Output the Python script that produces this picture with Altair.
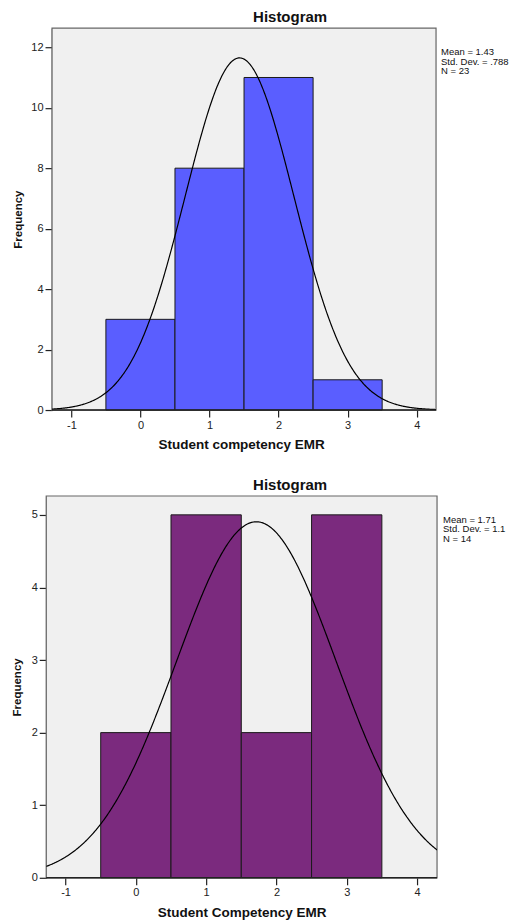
import math
import altair as alt
import pandas as pd

# ---- data ----
values_top = [0, 1, 2, 3]
counts_top = [3, 8, 11, 1]
values_bot = [0, 1, 2, 3]
counts_bot = [2, 5, 2, 5]
x_ticks = [-1, 0, 1, 2, 3, 4]
y_ticks_top = [0, 2, 4, 6, 8, 10, 12]
y_ticks_bot = [0, 1, 2, 3, 4, 5]
x_title_top = "Student competency EMR"
x_title_bot = "Student Competency EMR"
chart_title = "Histogram"

FONT = "Liberation Sans"


def stats(values, counts):
    n = sum(counts)
    mean = sum(v * c for v, c in zip(values, counts)) / n
    var = sum(c * (v - mean) ** 2 for v, c in zip(values, counts)) / (n - 1)
    return n, mean, math.sqrt(var)


def fmt(v, d):
    s = f"{v:.{d}f}"
    if s.startswith("0."):
        s = s[1:]
    return s


def panel(values, counts, color, xtitle, ymax, yticks, width, height,
          xdom, frame_x, yoff, yext, ytpad, title_x, ann_dx, ann_limit):
    n, mean, sd = stats(values, counts)
    df = pd.DataFrame({"value": values, "count": counts})
    xscale = alt.Scale(domain=xdom, nice=False, zero=False)
    yscale = alt.Scale(domain=[0, ymax], nice=False)
    common = dict(grid=False, tickSize=7, labelPadding=2, labelFontSize=11,
                  titleFontWeight="bold", domainColor="#222", tickColor="#222",
                  labelColor="#222", titleColor="#111", labelFlush=False,
                  labelOverlap=False, domainWidth=1.5, tickWidth=1.2,
                  titleFont=FONT, labelFont=FONT,
                  labelExpr="'' + datum.value")
    xaxis = alt.Axis(values=x_ticks, title=xtitle, titlePadding=7.5, domain=False,
                     titleFontSize=13.5, **common)
    yaxis = alt.Axis(values=yticks, title="Frequency", titlePadding=ytpad,
                     titleFontSize=11.5, minExtent=yext, maxExtent=yext,
                     offset=yoff, **common)
    frame = alt.Chart(pd.DataFrame({"k": [0]})).mark_rect(
        fill="#f0f0f0", stroke="#666", strokeWidth=1.2
    ).encode(
        x=alt.X(datum=frame_x[0], scale=xscale, axis=xaxis),
        x2=alt.datum(frame_x[1]),
        y=alt.Y(datum=0, scale=yscale, axis=yaxis),
        y2=alt.datum(ymax),
    )
    bars = alt.Chart(df).transform_calculate(
        lo="datum.value - 0.5", hi="datum.value + 0.5"
    ).mark_bar(color=color, stroke="#1a1a1a", strokeWidth=1).encode(
        x=alt.X("lo:Q", scale=xscale, axis=xaxis),
        x2="hi:Q",
        y=alt.Y("count:Q", scale=yscale, axis=yaxis),
        y2=alt.datum(0),
    )
    curve = alt.Chart(alt.sequence(frame_x[0], frame_x[1] + 0.01, 0.01, as_="x")).transform_filter(
        f"datum.x >= {frame_x[0]} && datum.x <= {frame_x[1]}"
    ).transform_calculate(
        dens=f"{n}*exp(-0.5*pow((datum.x-{mean})/{sd},2))/({sd}*sqrt(2*PI))"
    ).mark_line(color="black", strokeWidth=1.2, clip=True).encode(
        x=alt.X("x:Q", scale=xscale, axis=xaxis),
        y=alt.Y("dens:Q", scale=yscale, axis=yaxis),
    )
    base = alt.Chart(pd.DataFrame({"k": [0]})).mark_rule(
        color="#222", strokeWidth=1.5
    ).encode(
        x=alt.X(datum=frame_x[0], scale=xscale, axis=xaxis),
        x2=alt.datum(frame_x[1]),
        y=alt.Y(datum=0, scale=yscale, axis=yaxis),
    )
    label = f"Mean = {fmt(mean, 2)}\nStd. Dev. = {fmt(sd, 3)}\nN = {n}"
    ann = alt.Chart(pd.DataFrame({"t": [label]})).mark_text(
        align="left", baseline="top", fontSize=9.5, lineHeight=9.5, lineBreak="\n",
        font=FONT, color="#111", limit=ann_limit, ellipsis="\u200b"
    ).encode(x=alt.value(width + ann_dx), y=alt.value(19), text="t:N")
    ttl = alt.Chart(pd.DataFrame({"t": [chart_title]})).mark_text(
        align="center", baseline="middle", fontSize=15, fontWeight="bold",
        font=FONT, color="#111"
    ).encode(x=alt.value(title_x), y=alt.value(-11.3), text="t:N")
    return alt.layer(frame, bars, curve, base, ann, ttl).properties(
        width=width, height=height
    )


# top panel: plot frame starts ~5.8px right of the shared column edge
top = panel(values_top, counts_top, "#5a5eff", x_title_top, 12.63, y_ticks_top,
            390, 382, [-1.364, 4.28], [-1.28, 4.28], -5.8, 22, 6.25, 244, 5, 69)
bot = panel(values_bot, counts_bot, "#7b2a7e", x_title_bot, 5.26, y_ticks_bot,
            391, 382, [-1.275, 4.285], [-1.275, 4.285], 0, 17, 6.25, 244, 6, 64)

chart = alt.concat(top, bot, columns=1, spacing=25).properties(
    padding={"left": 3.25, "top": 1, "right": 0, "bottom": 0}
).configure(
    background="white",
    view=alt.ViewConfig(stroke="transparent"),
)

chart.save("out.html", embed_options={"renderer": "svg", "actions": False})
